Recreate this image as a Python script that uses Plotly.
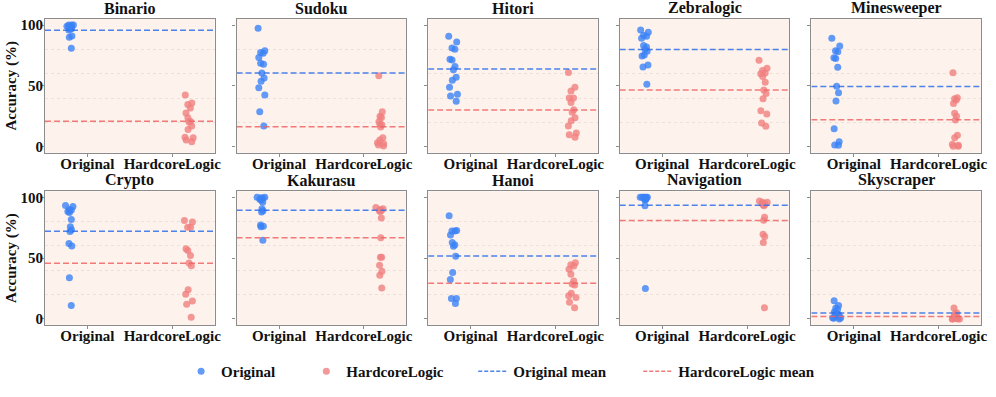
import numpy as np
import plotly.graph_objects as go
from plotly.subplots import make_subplots

puzzles = ["Binario", "Sudoku", "Hitori", "Zebralogic", "Minesweeper",
           "Crypto", "Kakurasu", "Hanoi", "Navigation", "Skyscraper"]
categories = ["Original", "HardcoreLogic"]

original = {
    "Binario": [100, 100, 100, 99, 99, 98, 98, 97, 97, 96, 91, 90, 81],
    "Sudoku": [97.3, 78.8, 77.4, 76.9, 73.4, 68.5, 67.7, 60.5, 56.5, 53.8, 48.4, 42.5, 28.8, 16.9],
    "Hitori": [90.9, 86, 80.1, 81.2, 71.8, 71.2, 65.9, 63.2, 57, 54.6, 48.9, 43, 41.7, 37.4],
    "Zebralogic": [96, 94.1, 91.7, 90.9, 89.2, 83.3, 82, 80.1, 78.5, 75.3, 74.5, 67.2, 65.6, 51.3],
    "Minesweeper": [89.2, 82.8, 78.8, 78, 73.1, 72.6, 65.3, 49.7, 44.4, 37.6, 14.8, 4, 1.3, 1.1],
    "Crypto": [93.3, 92.5, 90, 89.5, 88.4, 87.6, 81.7, 75.8, 73.4, 72, 62.1, 59.9, 33.9, 11],
    "Kakurasu": [100, 100, 99.7, 99.2, 98.4, 97.6, 96, 90.6, 89, 87.9, 77.2, 76.3, 75.8, 64.8],
    "Hanoi": [84.9, 72.8, 72.3, 72.3, 69.1, 62.9, 61, 59.7, 51.6, 38.2, 32.5, 16.9, 16.7, 12.6],
    "Navigation": [100, 100, 100, 100, 100, 100, 99, 99, 99, 99, 98, 98, 93, 25],
    "Skyscraper": [15, 11, 9, 8, 6, 5, 4, 4, 3, 2, 1, 1, 0.5, 0],
}
hardcore = {
    "Binario": [42.5, 35.8, 34.7, 31.7, 27.7, 23.7, 20.7, 20.2, 16.9, 14, 7.8, 7.3, 5.4, 4],
    "Sudoku": [58.3, 28.8, 25, 23.9, 20.7, 18.5, 18, 16.1, 7.3, 5.4, 3.2, 2.4, 1.3, 0.5],
    "Hitori": [61, 48.9, 45.7, 40, 40, 36.3, 30.4, 28.2, 23.7, 21.2, 16.9, 11.3, 9.7, 7.8],
    "Zebralogic": [71, 64.5, 62.6, 60.5, 60, 57.8, 53, 46.5, 43.8, 39.5, 29.6, 26.9, 19.4, 16.7],
    "Minesweeper": [60.8, 40.3, 39.5, 38.4, 35.5, 27.4, 25, 22, 9.4, 7.3, 1.9, 1.1, 0.3, 0.3],
    "Crypto": [80.9, 79.8, 75.5, 75.5, 57.8, 56.2, 52.2, 46, 43.8, 23.9, 20.2, 14.8, 12.1, 1.3],
    "Kakurasu": [91.7, 90.6, 90, 89.2, 89, 88.4, 83.1, 66.7, 50.8, 50.8, 44.1, 39.2, 36, 25.5],
    "Hanoi": [46.2, 44.6, 43.5, 40.9, 36.8, 31.2, 28.8, 28, 21.2, 19.1, 17.7, 13.7, 9.1],
    "Navigation": [97, 96, 96, 95, 95, 94, 94, 93, 83.6, 81.2, 69.6, 67.7, 62.9, 9.1],
    "Skyscraper": [9, 5, 4, 3, 2, 2, 1, 1, 1, 0.5, 0, 0, 0, 0],
}
ytick_vals = [0, 50, 100]

FONT = "Liberation Serif, Times New Roman, serif"
BLUE_PT = "rgba(59,130,246,0.8)"
RED_PT = "rgba(240,128,128,0.8)"
BLUE_LN = "rgba(45,110,235,0.85)"
RED_LN = "rgba(238,100,100,0.85)"
BG = "#fef2ec"
AX = "#8c8c8c"
LEG_FONT = dict(family=FONT, size=15, color="#111", weight="bold")

fig = make_subplots(rows=2, cols=5, subplot_titles=puzzles,
                    horizontal_spacing=0.0234, vertical_spacing=0.126)

for i, name in enumerate(puzzles):
    r, c = i // 5 + 1, i % 5 + 1
    fig.add_trace(go.Box(y=original[name], x0=-0.2, width=0.2, boxpoints="all",
                         jitter=0.6, pointpos=0, name="Original",
                         marker=dict(color=BLUE_PT, size=7),
                         line=dict(width=0), fillcolor="rgba(0,0,0,0)",
                         showlegend=False, hoverinfo="y"), row=r, col=c)
    fig.add_trace(go.Box(y=hardcore[name], x0=1.2, width=0.2, boxpoints="all",
                         jitter=0.6, pointpos=0, name="HardcoreLogic",
                         marker=dict(color=RED_PT, size=7),
                         line=dict(width=0), fillcolor="rgba(0,0,0,0)",
                         showlegend=False, hoverinfo="y"), row=r, col=c)
for i, name in enumerate(puzzles):
    r, c = i // 5 + 1, i % 5 + 1
    mo = float(np.mean(original[name]))
    mh = float(np.mean(hardcore[name]))
    fig.add_trace(go.Scatter(x=[-0.5, 1.5], y=[mo, mo], mode="lines", name="Original mean",
                             line=dict(color=BLUE_LN, width=1.5, dash="6px,3px"),
                             showlegend=False), row=r, col=c)
    fig.add_trace(go.Scatter(x=[-0.5, 1.5], y=[mh, mh], mode="lines", name="HardcoreLogic mean",
                             line=dict(color=RED_LN, width=1.5, dash="6px,3px"),
                             showlegend=False), row=r, col=c)

# legend entries, one legend box each
fig.add_trace(go.Scatter(x=[None], y=[None], mode="markers", name="Original",
                         marker=dict(color=BLUE_PT, size=7), legend="legend"), row=1, col=1)
fig.add_trace(go.Scatter(x=[None], y=[None], mode="markers", name="HardcoreLogic",
                         marker=dict(color=RED_PT, size=7), legend="legend2"), row=1, col=1)
fig.add_trace(go.Scatter(x=[None], y=[None], mode="lines", name="Original mean",
                         line=dict(color=BLUE_LN, width=1.5, dash="4px,2px"),
                         legend="legend3"), row=1, col=1)
fig.add_trace(go.Scatter(x=[None], y=[None], mode="lines", name="HardcoreLogic mean",
                         line=dict(color=RED_LN, width=1.5, dash="4px,2px"),
                         legend="legend4"), row=1, col=1)

fig.update_xaxes(type="linear", range=[-0.5, 1.5], tickvals=[0, 1], ticktext=categories,
                 showgrid=False, zeroline=False, showline=True, mirror=True,
                 linecolor=AX, linewidth=1.2, ticks="outside", ticklen=3, tickcolor=AX,
                 ticklabelstandoff=-6,
                 tickfont=dict(family=FONT, size=15, color="#111", weight="bold"))
fig.update_yaxes(range=[-5, 105], tickvals=ytick_vals, showgrid=False, zeroline=False,
                 showline=True, mirror=True, linecolor=AX, linewidth=1.2,
                 ticks="outside", ticklen=3, tickcolor=AX, ticklabelstandoff=-5,
                 minor=dict(tickmode="array", tickvals=[20, 40, 60, 80], showgrid=True,
                            gridcolor="#efe0d9", griddash="dot", gridwidth=1, ticks=""),
                 tickfont=dict(family=FONT, size=15, color="#111", weight="bold"))
for c in range(2, 6):
    fig.update_yaxes(showticklabels=False, row=1, col=c)
    fig.update_yaxes(showticklabels=False, row=2, col=c)
for r in (1, 2):
    fig.update_yaxes(title=dict(text="Accuracy (%)", standoff=0,
                                font=dict(family=FONT, size=15, color="#111", weight="bold")),
                     row=r, col=1)

for a in fig.layout.annotations:
    a.font = dict(family=FONT, size=16, color="#111", weight="bold")

leg_common = dict(orientation="h", xanchor="left", y=-0.152, yanchor="middle",
                  font=LEG_FONT, itemwidth=30, bgcolor="rgba(0,0,0,0)")
fig.update_layout(
    width=996, height=397,
    margin=dict(l=45, r=9, t=19, b=68),
    paper_bgcolor="white", plot_bgcolor=BG,
    boxmode="overlay",
    legend=dict(x=0.1454, **leg_common),
    legend2=dict(x=0.2792, **leg_common),
    legend3=dict(x=0.4575, **leg_common),
    legend4=dict(x=0.6338, **leg_common),
)

fig.write_html("out.html", config={"displayModeBar": False},
               post_script="document.body.style.margin='0';")
